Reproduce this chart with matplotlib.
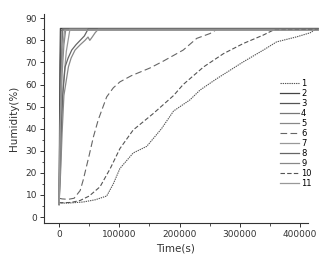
import matplotlib
matplotlib.use("Agg")
import matplotlib.pyplot as plt
from matplotlib.ticker import MultipleLocator

labels = ["1", "2", "3", "4", "5", "6", "7", "8", "9", "10", "11"]

t1 = [0, 10000, 20000, 40000, 60000, 79000, 90000, 101000, 123000, 145500, 170000, 190000, 217000, 234000, 262000, 306000, 339000, 361000, 394500, 416500, 425000, 430000]
h1 = [6.3, 6.3, 6.4, 6.8, 7.8, 9.5, 15, 22, 29, 32, 40, 48, 53, 57.5, 62.7, 70.3, 75.6, 79.3, 81.6, 83.4, 84.8, 85]

t2 = [0, 800, 1500, 2200, 430000]
h2 = [6, 40, 70, 85.4, 85.4]

t3 = [0, 1000, 2000, 3200, 430000]
h3 = [5.5, 35, 65, 84.7, 84.7]

t4 = [0, 1500, 3000, 4500, 6000, 430000]
h4 = [6, 30, 55, 75, 85.2, 85.2]

t5 = [0, 2000, 5000, 8000, 11000, 430000]
h5 = [6, 40, 65, 78, 84.8, 84.8]

t6 = [0, 5000, 15000, 25000, 35000, 40000, 50000, 57000, 65000, 79000, 90000, 101000, 120000, 151000, 173000, 206000, 228500, 250600, 262000, 430000]
h6 = [8.5, 8.2, 8, 8.5, 12, 16.7, 28, 36.3, 44, 54.4, 58.5, 61.2, 64, 67.5, 70.6, 75.6, 80.9, 83.1, 85, 85]

t7 = [0, 2000, 4000, 7000, 12000, 18000, 430000]
h7 = [6, 25, 45, 60, 75, 85, 85]

t8 = [0, 2000, 4000, 6000, 10000, 15000, 21000, 28000, 35000, 42000, 48500, 430000]
h8 = [6, 20, 40, 55, 68, 72, 75.6, 78, 80, 82, 85.3, 85.3]

t9 = [0, 2500, 5000, 8000, 15500, 20000, 26500, 35000, 43000, 48000, 51000, 55000, 60000, 65000, 430000]
h9 = [6, 20, 38, 55, 68, 72, 75.6, 78, 80, 81.5, 80, 81.5, 83.5, 85, 85]

t10 = [0, 10000, 20000, 35000, 50000, 68000, 85000, 101000, 123000, 156500, 190000, 206000, 240000, 273000, 306000, 339000, 356000, 430000]
h10 = [6.5, 6.5, 6.6, 7.5, 9.5, 13.7, 22, 31, 39.4, 46.9, 55, 60, 68, 74, 78.6, 82.4, 84.7, 85]

t11 = [0, 1200, 2500, 4000, 6000, 9000, 430000]
h11 = [6, 30, 50, 65, 76, 84.6, 84.6]

series_t = [t1, t2, t3, t4, t5, t6, t7, t8, t9, t10, t11]
series_h = [h1, h2, h3, h4, h5, h6, h7, h8, h9, h10, h11]

styles = [
    dict(color="#555555", ls=(0, (1.2, 0.8)), lw=0.8),
    dict(color="#444444", ls="-", lw=0.9),
    dict(color="#555555", ls="-", lw=0.9),
    dict(color="#777777", ls="-", lw=0.9),
    dict(color="#888888", ls="-", lw=0.9),
    dict(color="#666666", ls=(0, (6, 3)), lw=0.8),
    dict(color="#999999", ls="-", lw=0.9),
    dict(color="#666666", ls="-", lw=0.9),
    dict(color="#888888", ls="-", lw=0.9),
    dict(color="#555555", ls=(0, (4, 2)), lw=0.8),
    dict(color="#999999", ls="-", lw=0.9),
]

fig = plt.figure(figsize=(3.27, 2.56), dpi=100)
ax = fig.add_axes([0.1346, 0.129, 0.807, 0.816])

for t, h, lab, st in zip(series_t, series_h, labels, styles):
    ax.plot(t, h, label=lab, clip_on=False, **st)

ax.set_xlim(-25000, 413000)
ax.set_ylim(-2.7, 91.9)
ax.spines["top"].set_visible(False)
ax.spines["right"].set_visible(False)
for s in ["left", "bottom"]:
    ax.spines[s].set_color("#333333")
    ax.spines[s].set_linewidth(0.8)

ax.xaxis.set_major_locator(MultipleLocator(100000))
ax.xaxis.set_minor_locator(MultipleLocator(50000))
ax.yaxis.set_major_locator(MultipleLocator(10))
ax.yaxis.set_minor_locator(MultipleLocator(5))
ax.tick_params(which="major", direction="out", length=3, width=0.7, labelsize=6.5,
               colors="#333333", pad=2)
ax.tick_params(which="minor", direction="out", length=1.8, width=0.6, colors="#333333")

ax.set_xlabel("Time(s)", fontsize=7.5, color="#333333", labelpad=3)
ax.set_ylabel("Humidity(%)", fontsize=7.5, color="#333333", labelpad=5)

leg = ax.legend(loc="upper left", bbox_to_anchor=(0.895, 0.69), frameon=False,
                fontsize=6, handlelength=2.2, handletextpad=0.3, labelspacing=0.12,
                borderpad=0, borderaxespad=0)

fig.savefig("out.png", dpi=100)
